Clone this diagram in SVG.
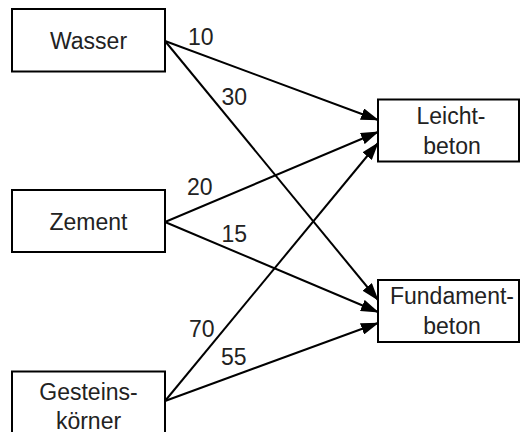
<svg xmlns="http://www.w3.org/2000/svg" width="520" height="432" viewBox="0 0 520 432">
<defs>
<style>
.box{fill:#fff;stroke:#000;stroke-width:2}
.t{font-family:"Liberation Sans",Arial,sans-serif;font-size:23px;fill:#222}
.c{text-anchor:middle}
.e{stroke:#000;stroke-width:2;fill:none;marker-end:url(#ah)}
</style>
<marker id="ah" markerUnits="userSpaceOnUse" markerWidth="18" markerHeight="12" refX="17" refY="6" orient="auto">
<path d="M0,0 L18,6 L0,12 z" fill="#000"/>
</marker>
</defs>
<rect width="520" height="432" fill="#fff"/>
<g id="connectors">
<line class="e" x1="165" y1="41" x2="378" y2="120"/>
<line class="e" x1="165" y1="41" x2="378" y2="300"/>
<line class="e" x1="165" y1="222" x2="378" y2="132"/>
<line class="e" x1="165" y1="222" x2="378" y2="312"/>
<line class="e" x1="165" y1="401" x2="378" y2="143"/>
<line class="e" x1="165" y1="401" x2="378" y2="323"/>
<text class="t" x="188" y="45">10</text>
<text class="t" x="221.5" y="105">30</text>
<text class="t" x="187" y="195">20</text>
<text class="t" x="221.5" y="242">15</text>
<text class="t" x="189" y="337">70</text>
<text class="t" x="221" y="365">55</text>
</g>
<g id="wasser">
<rect class="box" x="12" y="9" width="153" height="62.5"/>
<text class="t c" x="88.5" y="48.5">Wasser</text>
</g>
<g id="zement">
<rect class="box" x="12" y="190" width="153" height="62"/>
<text class="t c" x="88.5" y="230">Zement</text>
</g>
<g id="gesteinskoerner">
<rect class="box" x="12" y="371.5" width="153" height="80"/>
<text class="t c" x="88.5" y="399.5">Gesteins-</text>
<text class="t c" x="88.5" y="428.5">körner</text>
</g>
<g id="leichtbeton">
<rect class="box" x="378" y="99.5" width="141" height="62"/>
<text class="t c" x="451" y="124">Leicht-</text>
<text class="t c" x="452" y="153.5">beton</text>
</g>
<g id="fundamentbeton">
<rect class="box" x="378" y="280" width="141" height="62"/>
<text class="t c" x="452" y="303.5">Fundament-</text>
<text class="t c" x="452" y="333.5">beton</text>
</g>
</svg>
